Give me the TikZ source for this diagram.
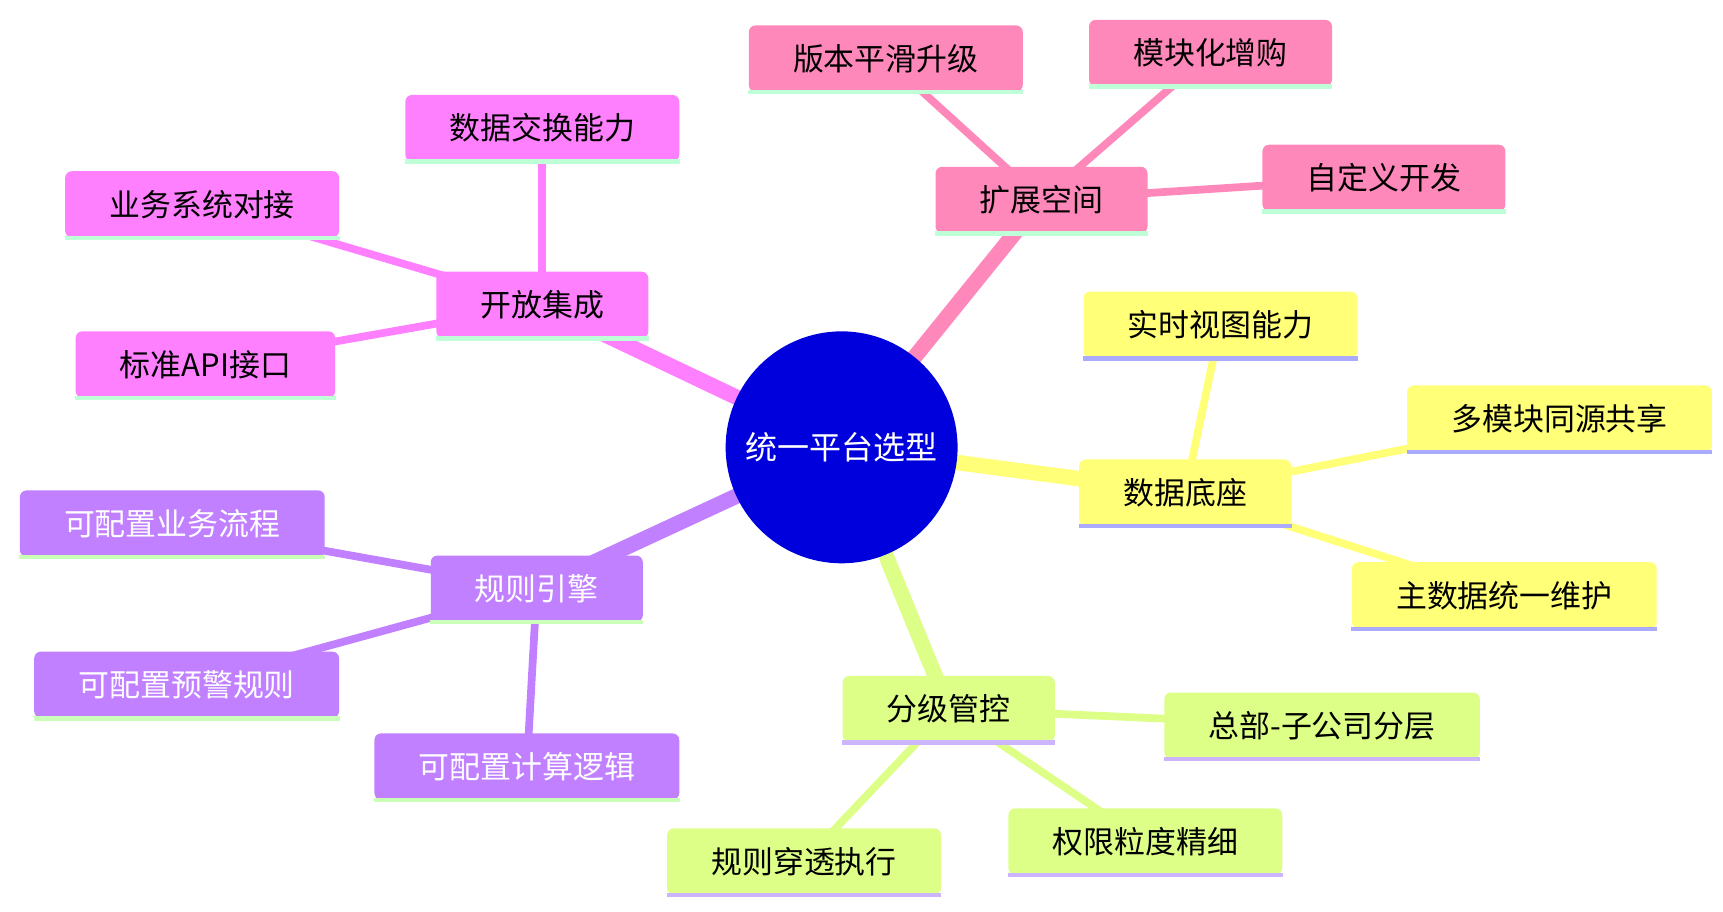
\documentclass[tikz,border=0pt]{standalone}
\usepackage{fontspec}
\setmainfont{Noto Sans CJK SC}
\usetikzlibrary{backgrounds}
\definecolor{pinkc}{RGB}{255,136,187}
\definecolor{yelc}{RGB}{255,255,120}
\definecolor{limec}{RGB}{221,255,136}
\definecolor{purc}{RGB}{192,128,255}
\definecolor{magc}{RGB}{255,128,255}
\definecolor{greenl}{RGB}{190,255,215}
\definecolor{bluel}{RGB}{170,170,255}
\definecolor{lilacl}{RGB}{205,180,255}
\definecolor{rootc}{RGB}{0,0,221}
\begin{document}
\begin{tikzpicture}[x=0.5pt,y=-0.5pt,
    box/.style={rounded corners=3pt,inner xsep=20pt,minimum height=30pt,font=\fontsize{14}{16}\selectfont},
    trunk/.style={line width=7pt},
    twig/.style={line width=3.5pt}]
\useasboundingbox (0,0) rectangle (1560,825);

% Root
\node[circle,fill=rootc,minimum size=105pt,text=white,font=\fontsize{14.5}{16}\selectfont] (root) at (762,405) {统一平台选型};

% Branches
\node[box,fill=pinkc] (ext) at (943,181) {扩展空间};
\node[box,fill=pinkc] (ext1) at (802,53) {版本平滑升级};
\node[box,fill=pinkc] (ext2) at (1096,48) {模块化增购};
\node[box,fill=pinkc] (ext3) at (1253,161) {自定义开发};

\node[box,fill=yelc] (dat) at (1073,446) {数据底座};
\node[box,fill=yelc] (dat1) at (1105,294) {实时视图能力};
\node[box,fill=yelc] (dat2) at (1412,379) {多模块同源共享};
\node[box,fill=yelc] (dat3) at (1362,539) {主数据统一维护};

\node[box,fill=limec] (lvl) at (859,642) {分级管控};
\node[box,fill=limec] (lvl1) at (1197,657) {总部-子公司分层};
\node[box,fill=limec] (lvl2) at (1037,762) {权限粒度精细};
\node[box,fill=limec] (lvl3) at (728,780) {规则穿透执行};

\node[box,fill=purc,text=white] (rul) at (486,533) {规则引擎};
\node[box,fill=purc,text=white] (rul1) at (156,474) {可配置业务流程};
\node[box,fill=purc,text=white] (rul2) at (169,620) {可配置预警规则};
\node[box,fill=purc,text=white] (rul3) at (477,694) {可配置计算逻辑};

\node[box,fill=magc] (opn) at (491,276) {开放集成};
\node[box,fill=magc] (opn1) at (491,116) {数据交换能力};
\node[box,fill=magc] (opn2) at (183,185) {业务系统对接};
\node[box,fill=magc] (opn3) at (186,330) {标准API接口};

% Underlines
\foreach \n/\c in {ext/greenl,ext1/greenl,ext2/greenl,ext3/greenl,
    dat/bluel,dat1/bluel,dat2/bluel,dat3/bluel,
    lvl/lilacl,lvl1/lilacl,lvl2/lilacl,lvl3/lilacl,
    rul/greenl!60!limec,rul1/greenl!60!limec,rul2/greenl!60!limec,rul3/greenl!60!limec,
    opn/greenl,opn1/greenl,opn2/greenl,opn3/greenl}
  \draw[\c,line width=2pt] (\n.south west) -- (\n.south east);

% Connectors
\begin{scope}[on background layer]
  \foreach \b/\c in {ext/pinkc,dat/yelc,lvl/limec,rul/purc,opn/magc}{
    \draw[trunk,\c] (root.center) -- (\b.center);
    \foreach \i in {1,2,3}
      \draw[twig,\c] (\b.center) -- (\b\i.center);
  }
\end{scope}
\end{tikzpicture}
\end{document}
